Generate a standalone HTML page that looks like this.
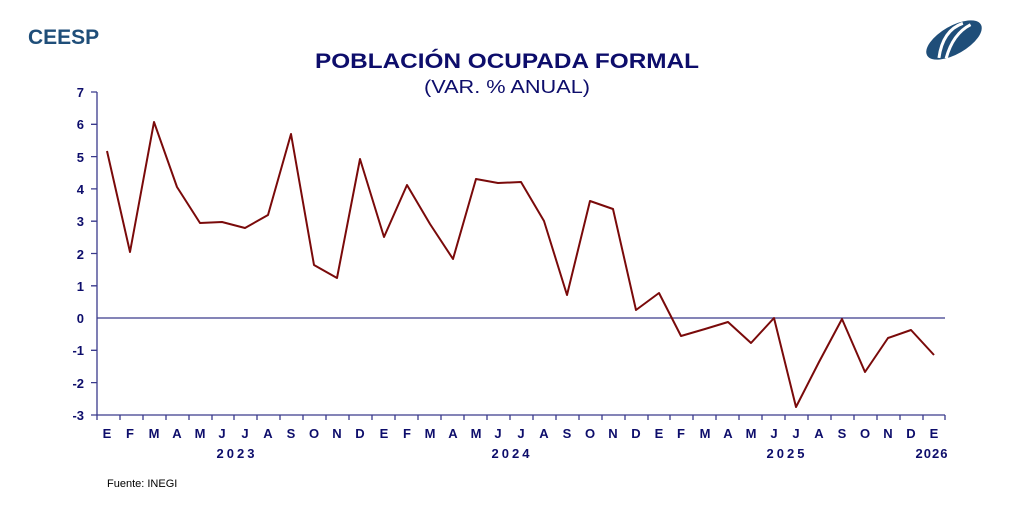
<!DOCTYPE html><html><head><meta charset="utf-8"><style>body{margin:0;background:#fff}svg{display:block}</style></head><body>
<svg width="1024" height="509" xmlns="http://www.w3.org/2000/svg" font-family="Liberation Sans, Arial, sans-serif">
<text x="28" y="44" font-size="21" font-weight="bold" fill="#1f4e79">CEESP</text>
<g transform="translate(954,40) rotate(-30)"><ellipse cx="0" cy="0" rx="31" ry="14" fill="#1f4e79"/><path d="M-22 8 Q-5 -14 16 -10 M-16 12 Q2 -6 22 -5" stroke="#fff" stroke-width="3" fill="none"/></g>
<text x="507" y="68" font-size="21" font-weight="bold" fill="#0d0d6b" text-anchor="middle" textLength="384" lengthAdjust="spacingAndGlyphs">POBLACIÓN OCUPADA FORMAL</text>
<text x="507" y="93" font-size="18" fill="#0d0d6b" text-anchor="middle" textLength="166" lengthAdjust="spacingAndGlyphs">(VAR. % ANUAL)</text>
<g stroke="#3a3a8c" stroke-width="1.3" fill="none">
<line x1="97" y1="92" x2="97" y2="415"/><line x1="97" y1="415" x2="945" y2="415"/><line x1="97" y1="318" x2="945" y2="318"/>
<path d="M91 92H97M91 124.3H97M91 156.6H97M91 188.9H97M91 221.2H97M91 253.5H97M91 285.8H97M91 350.3H97M91 382.6H97M91 415H97"/>
<path d="M97 415v5M120 415v5M143 415v5M166 415v5M189 415v5M212 415v5M234 415v5M257 415v5M280 415v5M303 415v5M326 415v5M349 415v5M372 415v5M395 415v5M418 415v5M441 415v5M464 415v5M487 415v5M510 415v5M533 415v5M556 415v5M579 415v5M602 415v5M625 415v5M648 415v5M670 415v5M693 415v5M716 415v5M739 415v5M762 415v5M785 415v5M808 415v5M831 415v5M854 415v5M877 415v5M900 415v5M923 415v5M945 415v5"/>
</g>
<g font-size="13" font-weight="bold" fill="#0d0d6b" text-anchor="end">
<text x="84" y="97">7</text><text x="84" y="129">6</text><text x="84" y="162">5</text><text x="84" y="194">4</text><text x="84" y="226">3</text><text x="84" y="259">2</text><text x="84" y="291">1</text><text x="84" y="323">0</text><text x="84" y="355">-1</text><text x="84" y="388">-2</text><text x="84" y="420">-3</text>
</g>
<g font-size="13" font-weight="bold" fill="#0d0d6b" text-anchor="middle">
<text x="107" y="438">E</text><text x="130" y="438">F</text><text x="154" y="438">M</text><text x="177" y="438">A</text><text x="200" y="438">M</text><text x="222" y="438">J</text><text x="245" y="438">J</text><text x="268" y="438">A</text><text x="291" y="438">S</text><text x="314" y="438">O</text><text x="337" y="438">N</text><text x="360" y="438">D</text>
<text x="384" y="438">E</text><text x="407" y="438">F</text><text x="430" y="438">M</text><text x="453" y="438">A</text><text x="476" y="438">M</text><text x="498" y="438">J</text><text x="521" y="438">J</text><text x="544" y="438">A</text><text x="567" y="438">S</text><text x="590" y="438">O</text><text x="613" y="438">N</text><text x="636" y="438">D</text>
<text x="659" y="438">E</text><text x="681" y="438">F</text><text x="705" y="438">M</text><text x="728" y="438">A</text><text x="751" y="438">M</text><text x="774" y="438">J</text><text x="796" y="438">J</text><text x="819" y="438">A</text><text x="842" y="438">S</text><text x="865" y="438">O</text><text x="888" y="438">N</text><text x="911" y="438">D</text><text x="934" y="438">E</text>
<text x="237" y="458" letter-spacing="3">2023</text><text x="512" y="458" letter-spacing="3">2024</text><text x="787" y="458" letter-spacing="3">2025</text><text x="932" y="458" letter-spacing="1">2026</text>
</g>
<polyline fill="none" stroke="#7a0a0a" stroke-width="2" stroke-linejoin="round" points="107,151 130,252 154,122 177,187 200,223 222,222 245,228 268,215 291,134 314,265 337,278 360,159 384,237 407,185 430,224 453,259 476,179 498,183 521,182 544,221 567,295 590,201 613,209 636,310 659,293 681,336 705,329 728,322 751,343 774,318 796,407 819,362 842,319 865,372 888,338 911,330 934,355"/>
<text x="107" y="487" font-size="11" fill="#000">Fuente: INEGI</text>
</svg></body></html>
